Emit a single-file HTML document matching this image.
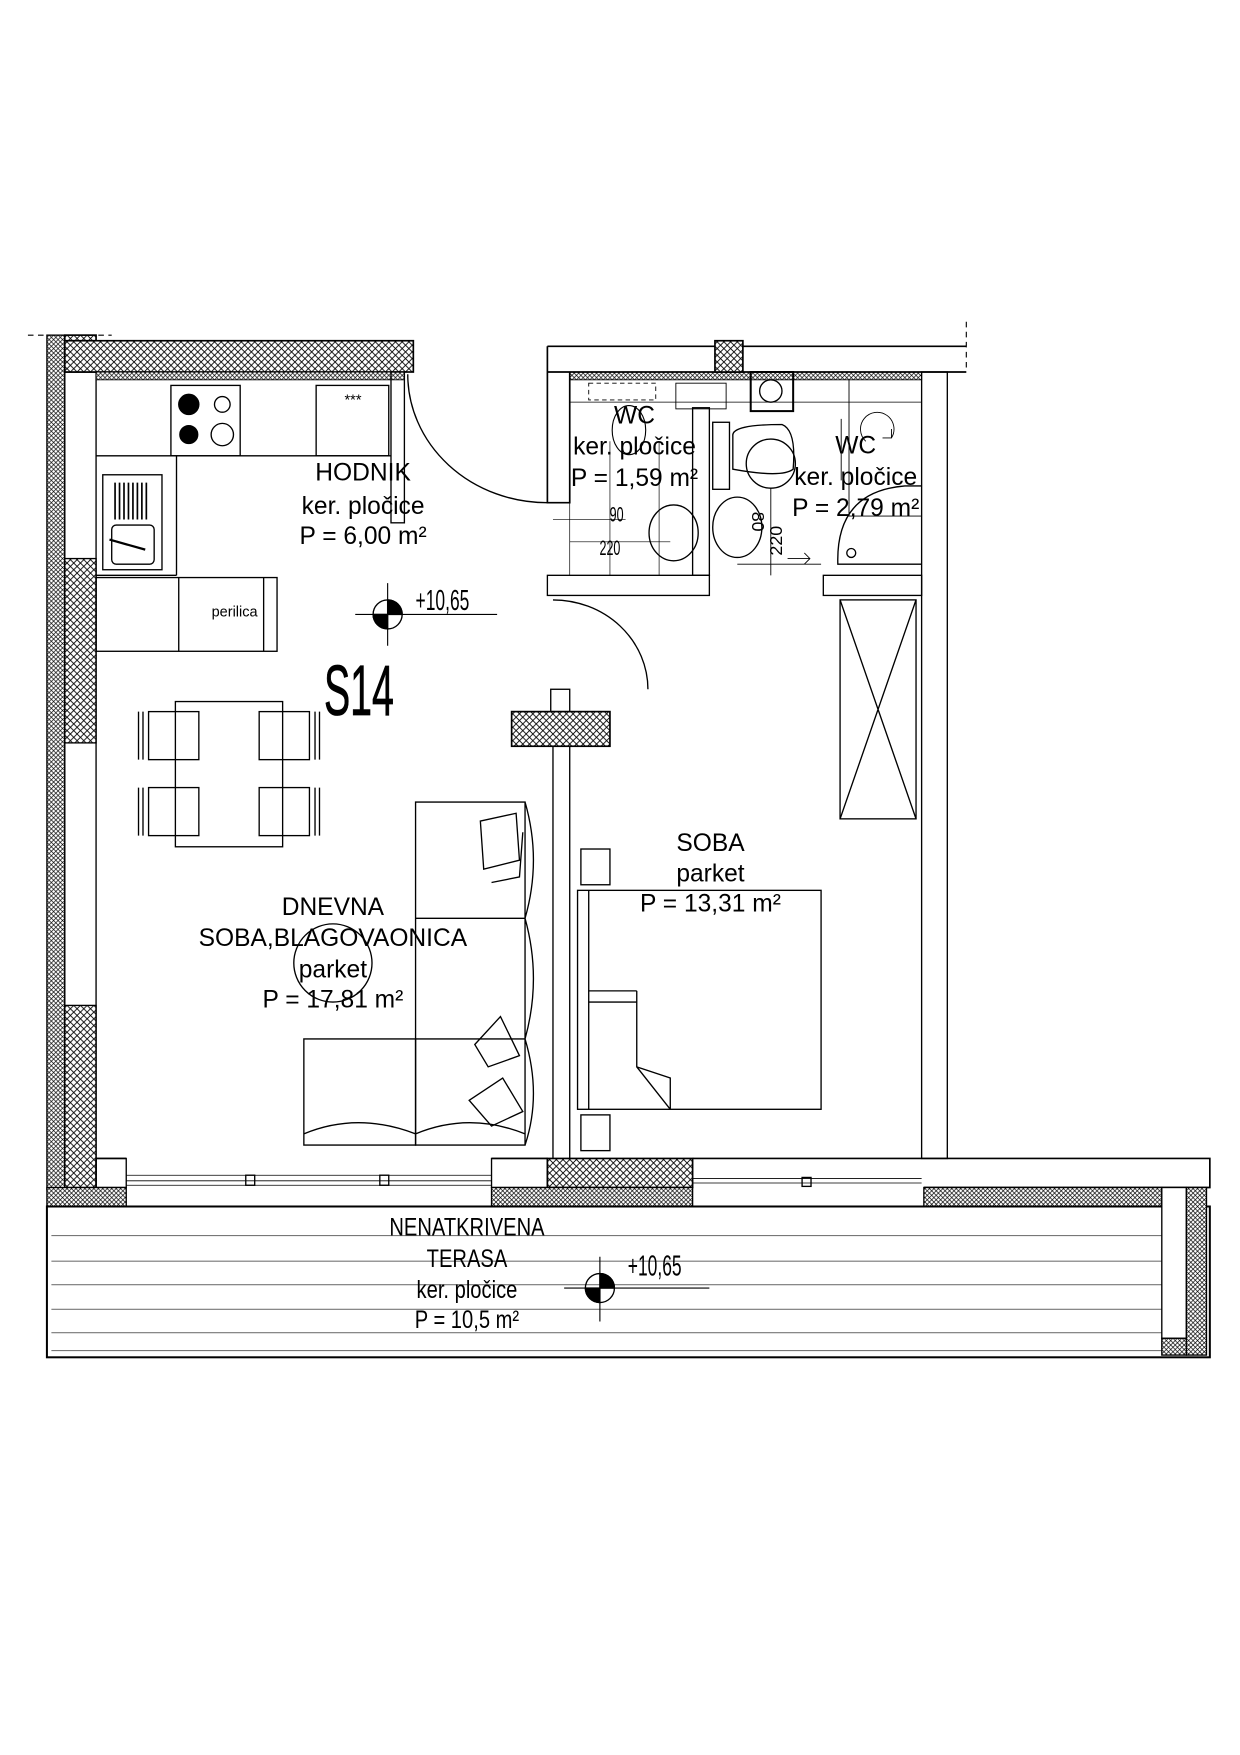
<!DOCTYPE html>
<html><head><meta charset="utf-8"><style>
html,body{margin:0;padding:0;background:#fff}
svg{display:block}
text{font-family:"Liberation Sans",sans-serif;fill:#000}
</style></head><body>
<svg width="1240" height="1755" viewBox="0 0 1110 1571" xmlns="http://www.w3.org/2000/svg">
<defs>
<pattern id="h" width="6" height="6" patternUnits="userSpaceOnUse">
<rect width="6" height="6" fill="#fff"/>
<path d="M0 0L6 6M6 0L0 6" stroke="#000" stroke-width="0.8"/>
</pattern>
<pattern id="h2" width="4" height="4" patternUnits="userSpaceOnUse">
<rect width="4" height="4" fill="#fff"/>
<path d="M0 0L4 4M4 0L0 4" stroke="#000" stroke-width="0.6"/>
</pattern>
</defs>
<g fill="none" stroke="#000" stroke-width="1.2">
<path d="M25 300H100M865 288V332" stroke-dasharray="5,4" stroke-width="1"/>
<rect x="42" y="300" width="16" height="765" fill="url(#h2)"/>
<rect x="58" y="300" width="28" height="33" fill="url(#h)" stroke-width="1.5"/>
<rect x="58" y="305" width="312" height="28" fill="url(#h)" stroke-width="1.5"/>
<rect x="58" y="500" width="28" height="165" fill="url(#h)"/>
<rect x="58" y="900" width="28" height="163" fill="url(#h)"/>
<path d="M86 333V1037M58 333V1063"/>
<rect x="86" y="333" width="276" height="7" fill="url(#h2)" stroke-width="0.8"/>
<rect x="510" y="333" width="315" height="7" fill="url(#h2)" stroke-width="0.8"/>
<path d="M86 408H350M158 408V515M86 515H158"/>
<rect x="153" y="345" width="62" height="63"/>
<circle cx="169" cy="362" r="9" fill="#000"/><circle cx="199" cy="362" r="7"/>
<circle cx="169" cy="389" r="8" fill="#000"/><circle cx="199" cy="389" r="10"/>
<rect x="283" y="345" width="65" height="63"/>
<rect x="92" y="425" width="53" height="85"/>
<path d="M103 432V465M107 432V465M111 432V465M115 432V465M119 432V465M123 432V465M127 432V465M131 432V465" stroke-width="1.5"/>
<rect x="100" y="470" width="38" height="35" rx="4"/>
<path d="M98 483L130 492" stroke-width="2"/>
<rect x="86" y="517" width="162" height="66"/>
<path d="M160 517V583M236 517V583"/>
<rect x="350" y="333" width="12" height="135"/>
<path d="M365 335A125 115 0 0 0 490 450"/>
<path d="M490 310H865M490 333H865M490 310V450H510V333" stroke-width="1.5"/>
<rect x="640" y="305" width="25" height="28" fill="url(#h)" stroke-width="1.5"/>
<rect x="672" y="333" width="38" height="35" stroke-width="1.8"/>
<circle cx="690" cy="350" r="10"/>
<rect x="527" y="343" width="60" height="15" stroke-dasharray="4,3" stroke-width="0.8"/>
<rect x="605" y="343" width="45" height="23" stroke-width="0.8"/>
<path d="M510 360H825" stroke-width="0.7"/>
<rect x="620" y="365" width="15" height="150"/>
<rect x="490" y="515" width="145" height="18"/>
<path d="M510 395V515M546 395V515M590 395V515" stroke-width="0.6"/>
<path d="M495 465H560M510 485H600" stroke-width="0.6"/>
<path d="M548 385a15 22 0 1 1 30 0a15 22 0 1 1 -30 0" stroke-width="1"/>
<ellipse cx="603" cy="477" rx="22" ry="25"/>
<ellipse cx="660" cy="472" rx="22" ry="27"/>
<rect x="638" y="378" width="15" height="60"/>
<path d="M656 390Q655 380 700 380Q713 385 710 420Q700 428 656 420Z"/>
<circle cx="690" cy="415" r="22"/>
<path d="M690 437V515M660 505H735" stroke-width="0.8"/>
<path d="M705 500H725M720 495L725 500L720 505" stroke-width="0.8"/>
<path d="M760 340V462H825M753 375V430" stroke-width="0.8"/>
<path d="M775 395A15 15 0 1 1 798 392M790 392L798 392L798 384" stroke-width="0.8"/>
<path d="M825 505H750Q748 440 810 435H825" />
<circle cx="762" cy="495" r="4"/>
<rect x="737" y="515" width="88" height="18"/>
<rect x="825" y="333" width="23" height="704"/>
<rect x="752" y="537" width="68" height="196"/>
<path d="M752 537L820 733M820 537L752 733"/>
<path d="M495 537A85 80 0 0 1 580 617"/>
<rect x="493" y="617" width="17" height="20"/>
<rect x="458" y="637" width="88" height="31" fill="url(#h)" stroke-width="1.5"/>
<path d="M495 668V1037M510 668V1037"/>
<rect x="157" y="628" width="96" height="130"/>
<rect x="133" y="637" width="45" height="43"/><rect x="133" y="705" width="45" height="43"/>
<rect x="232" y="637" width="45" height="43"/><rect x="232" y="705" width="45" height="43"/>
<path d="M124 637V680M128 637V680M124 705V748M128 705V748M282 637V680M286 637V680M282 705V748M286 705V748"/>
<path d="M372 718H470V1025H372ZM372 822H470M372 930H470M470 718Q485 770 470 822Q485 876 470 930Q485 980 470 1025"/>
<path d="M272 930H372V1025H272ZM272 1015Q320 995 372 1015Q420 995 470 1015"/>
<path d="M430 735L462 728L465 770L433 778Z M440 790L465 785L468 745"/>
<path d="M425 935L448 910L465 945L437 955Z M420 985L450 965L468 995L440 1008Z"/>
<circle cx="298" cy="862" r="35"/>
<rect x="517" y="797" width="218" height="196"/>
<path d="M527 797V993M527 887H570M527 897H570M570 887V955L600 993M570 955L600 965V993"/>
<rect x="520" y="760" width="26" height="32"/><rect x="520" y="998" width="26" height="32"/>
<path d="M86 1037H113M440 1037H490M620 1037H825M825 1037H1083V1063H827M86 1037V1063" stroke-width="1.5"/>
<rect x="86" y="1037" width="27" height="26"/>
<rect x="440" y="1037" width="50" height="26"/>
<rect x="490" y="1037" width="130" height="26" fill="url(#h)" stroke-width="1.5"/>
<path d="M113 1052H440M113 1057H440M113 1061H440M620 1055H825M620 1059H825" stroke-width="0.7"/>
<rect x="220" y="1052" width="8" height="9"/><rect x="340" y="1052" width="8" height="9"/><rect x="718" y="1054" width="8" height="8"/>
<rect x="42" y="1063" width="71" height="17" fill="url(#h2)"/>
<rect x="440" y="1063" width="180" height="17" fill="url(#h2)"/>
<rect x="827" y="1063" width="213" height="17" fill="url(#h2)"/>
<rect x="42" y="1080" width="1041" height="135" stroke-width="1.8"/>
<path d="M46 1106H1040M46 1129H1040M46 1150H1040M46 1172H1040M46 1193H1040M46 1209H1040" stroke="#777" stroke-width="1"/>
<rect x="1040" y="1063" width="22" height="135" fill="#fff"/>
<rect x="1062" y="1063" width="18" height="150" fill="url(#h2)"/>
<rect x="1040" y="1198" width="22" height="15" fill="url(#h2)"/>
<path d="M347 522V578M318 550H445M537 1125V1183M505 1153H635" stroke-width="1"/>
<circle cx="347" cy="550" r="13"/>
<path d="M347 537A13 13 0 0 1 360 550H347Z M347 563A13 13 0 0 1 334 550H347Z" fill="#000"/>
<circle cx="537" cy="1153" r="13"/>
<path d="M537 1140A13 13 0 0 1 550 1153H537Z M537 1166A13 13 0 0 1 524 1153H537Z" fill="#000"/>
</g>
<g font-size="22" text-anchor="middle">
<text x="325" y="430">HODNIK</text>
<text x="325" y="460">ker. pločice</text>
<text x="325" y="487">P = 6,00 m²</text>
<text x="568" y="379">WC</text>
<text x="568" y="407">ker. pločice</text>
<text x="568" y="435">P = 1,59 m²</text>
<text x="766" y="406">WC</text>
<text x="766" y="434">ker. pločice</text>
<text x="766" y="462">P = 2,79 m²</text>
<text x="298" y="819">DNEVNA</text>
<text x="298" y="847">SOBA,BLAGOVAONICA</text>
<text x="298" y="875">parket</text>
<text x="298" y="902">P = 17,81 m²</text>
<text x="636" y="762">SOBA</text>
<text x="636" y="789">parket</text>
<text x="636" y="816">P = 13,31 m²</text>
</g>
<g font-size="22" text-anchor="middle" transform="translate(418 0) scale(0.82 1) translate(-418 0)">
<text x="418" y="1106">NENATKRIVENA</text>
<text x="418" y="1134">TERASA</text>
<text x="418" y="1162">ker. pločice</text>
<text x="418" y="1189">P = 10,5 m²</text>
</g>
<text x="210" y="552" font-size="13" text-anchor="middle">perilica</text>
<text x="316" y="362" font-size="13" text-anchor="middle">***</text>
<g font-size="16" text-anchor="middle">
<text x="552" y="467" transform="translate(552 467) scale(0.7 1.2) translate(-552 -467)">90</text>
<text x="546" y="497" transform="translate(546 497) scale(0.7 1.2) translate(-546 -497)">220</text>
<text x="673" y="467" transform="rotate(90 673 467)">80</text>
<text x="700" y="484" transform="rotate(-90 700 484)">220</text>
</g>
<text x="372" y="546" font-size="26" transform="translate(372 546) scale(0.6 1) translate(-372 -546)" fill="#444">+10,65</text>
<text x="562" y="1142" font-size="26" transform="translate(562 1142) scale(0.6 1) translate(-562 -1142)" fill="#444">+10,65</text>
<text x="290" y="640" font-size="64" transform="translate(290 640) scale(0.55 1) translate(-290 -640)" fill="none" stroke="#000" stroke-width="0.7">S14</text>
</svg>
</body></html>
